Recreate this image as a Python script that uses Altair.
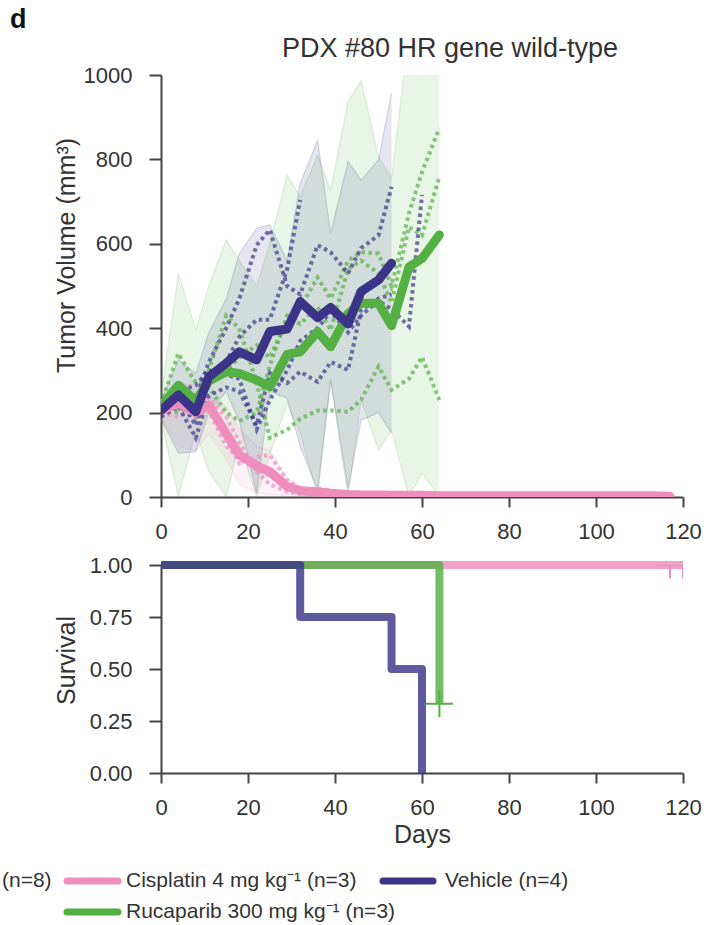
import altair as alt
import pandas as pd

FONT = "Liberation Sans"
TXT = "#333333"
AX = "#444444"

G_CIS = "Cisplatin 4 mg kg⁻¹ (n=3)"
G_VEH = "Vehicle (n=4)"
G_RUC = "Rucaparib 300 mg kg⁻¹ (n=3)"
groups = [G_CIS, G_VEH, G_RUC]
group_colors = ["#ef8dbd", "#3c3489", "#55b044"]
TITLE = "PDX #80 HR gene wild-type"

# ---- tumour volume: Vehicle ----
veh_days = [0, 4, 8, 11, 15, 18, 22, 25, 29, 32, 36, 39, 43, 46, 50, 53]
veh_mean = [205, 242, 202, 285, 317, 344, 325, 392, 398, 463, 425, 449, 410, 487, 514, 554]
veh_hi = [230, 325, 293, 390, 470, 577, 637, 645, 560, 743, 846, 625, 795, 751, 799, 957]
veh_lo = [185, 104, 107, 200, 250, 180, 9, 250, 234, 120, 17, 277, 20, 182, 200, 151]
veh_unit_days = [0, 4, 8, 11, 15, 18, 22, 25, 29, 32, 36, 39, 43, 46, 50, 53, 57, 60]
veh_u1 = [200, 235, 170, 275, 320, 380, 420, 420, 540, 704]
veh_u2 = [215, 265, 230, 320, 400, 470, 597, 633, 500, 480, 597, 580, 530, 590, 620, 735]
veh_u3 = [190, 215, 140, 240, 260, 250, 170, 294, 270, 297, 273, 320, 301, 443, 470, 480]
veh_u4 = [210, 250, 265, 300, 290, 280, 160, 230, 300, 370, 400, 440, 390, 430, 465, 445, 404, 716]

# ---- tumour volume: Rucaparib 300 ----
ruc_days = [0, 4, 8, 11, 15, 18, 22, 25, 29, 32, 36, 39, 43, 46, 50, 53, 57, 60, 64]
ruc_mean = [215, 265, 228, 275, 297, 293, 277, 261, 338, 344, 392, 356, 435, 459, 459, 406, 545, 565, 621]
ruc_hi = [240, 530, 396, 500, 609, 561, 500, 600, 763, 712, 810, 727, 937, 986, 806, 755, 1100, 1150, 1150]
ruc_lo = [185, 0, 157, 60, 0, 127, 0, 100, 222, 151, 0, 277, 0, 230, 111, 159, 0, 56, 0]
ruc_u1 = [220, 340, 270, 270, 300, 330, 360, 330, 420, 450, 520, 470, 560, 580, 577, 500, 672, 770, 874]
ruc_u2 = [210, 200, 220, 260, 200, 180, 200, 310, 430, 410, 450, 395, 540, 560, 530, 460, 640, 620, 759]
ruc_u3 = [200, 260, 190, 300, 430, 400, 270, 140, 160, 185, 205, 205, 202, 230, 309, 254, 280, 332, 230]

# ---- tumour volume: Cisplatin ----
cis_days = [0, 4, 8, 11, 15, 18, 22, 25, 29, 32, 36, 39, 43, 46, 50, 53, 57, 60, 64, 67,
            71, 74, 78, 81, 85, 88, 92, 95, 99, 102, 106, 109, 113, 117]
cis_mean = [205, 222, 200, 217, 150, 100, 74, 60, 25, 15, 12, 9, 6, 5, 5, 4, 4, 4, 3, 3,
            3, 3, 3, 3, 3, 3, 3, 3, 3, 3, 3, 3, 3, 2]
cis_band_days = [0, 4, 8, 11, 15, 18, 22, 25, 29, 32, 36, 39]
cis_hi = [230, 270, 265, 240, 215, 160, 120, 110, 45, 25, 20, 18]
cis_lo = [185, 120, 110, 150, 90, 30, 10, 5, 5, 4, 2, 1]
cis_u1 = [205, 240, 190, 235, 190, 130, 60, 30, 12, 6, 4, 3]
cis_u2 = [200, 190, 215, 210, 140, 80, 95, 100, 40, 20, 12, 8]
cis_u3 = [210, 235, 195, 205, 120, 90, 65, 50, 23, 18, 20, 16]

# ---- survival ----
surv_veh_days = [0, 32, 53, 60]
surv_veh = [1.0, 0.75, 0.5, 0.0]
surv_ruc_days = [0, 64]
surv_ruc = [1.0, 0.333]
surv_cis_days = [0, 120]
surv_cis = [1.0, 1.0]
cens_groups = [G_CIS, G_CIS, G_RUC]
cens_days = [117, 120, 64]
cens_surv = [1.0, 1.0, 0.333]

x_ticks = [0, 20, 40, 60, 80, 100, 120]
y_ticks_top = [0, 200, 400, 600, 800, 1000]
y_ticks_bot = [0, 0.25, 0.5, 0.75, 1.0]

color_scale = alt.Scale(domain=groups, range=group_colors)


def band_df(g, days, lo, hi):
    return pd.DataFrame({"group": g, "day": days, "lo": lo, "hi": hi})


def mean_df(g, days, vals):
    return pd.DataFrame({"group": g, "day": days, "vol": vals})


def units_df(g, days, units):
    rows = []
    for i, u in enumerate(units):
        for d, v in zip(days, u):
            rows.append({"group": g, "unit": f"{g}-{i}", "day": d, "vol": v})
    return pd.DataFrame(rows)


x_axis_top = alt.Axis(values=x_ticks, title=None, tickSize=10, labelPadding=14,
                      labelFlush=False, labelOverlap=False)
y_axis_top = alt.Axis(values=y_ticks_top, format="d", title="Tumor Volume (mm³)", tickSize=12,
                      labelPadding=17, titleAngle=270, titleX=-87, titleY=180,
                      titleAlign="center", titleBaseline="alphabetic")
xs_top = alt.Scale(domain=[0, 120], nice=False, zero=False)
ys_top = alt.Scale(domain=[0, 1000], nice=False)


def X():
    return alt.X("day:Q", scale=xs_top, axis=x_axis_top)


def Yt(field):
    return alt.Y(f"{field}:Q", scale=ys_top, axis=y_axis_top)


COL = alt.Color("group:N", scale=color_scale, legend=None)

spec = [
    (G_RUC, band_df(G_RUC, ruc_days, ruc_lo, ruc_hi), units_df(G_RUC, ruc_days, [ruc_u1, ruc_u2, ruc_u3]),
     mean_df(G_RUC, ruc_days, ruc_mean), 0.13),
    (G_CIS, band_df(G_CIS, cis_band_days, cis_lo, cis_hi), units_df(G_CIS, cis_band_days, [cis_u1, cis_u2, cis_u3]),
     mean_df(G_CIS, cis_days, cis_mean), 0.11),
    (G_VEH, band_df(G_VEH, veh_days, veh_lo, veh_hi),
     units_df(G_VEH, veh_unit_days, [veh_u1, veh_u2, veh_u3, veh_u4]),
     mean_df(G_VEH, veh_days, veh_mean), 0.13),
]

top_layers = []
for g, bdf, udf, mdf, op in spec:
    top_layers.append(alt.Chart(bdf).mark_area(opacity=op, clip=True).encode(
        x=X(), y=Yt("lo"), y2="hi:Q", color=COL))
    for f in ["lo", "hi"]:
        top_layers.append(alt.Chart(bdf).mark_line(opacity=0.18, strokeWidth=1.2, clip=True).encode(
            x=X(), y=Yt(f), color=COL))
for g, bdf, udf, mdf, op in spec:
    top_layers.append(alt.Chart(udf).mark_line(opacity=0.7, strokeWidth=4, strokeDash=[3.5, 3.5],
                                               strokeCap="butt", clip=True).encode(
        x=X(), y=Yt("vol"), color=COL, detail="unit:N"))
for g, bdf, udf, mdf, op in [spec[1], spec[0], spec[2]]:
    top_layers.append(alt.Chart(mdf).mark_line(strokeWidth=9, strokeCap="round", strokeJoin="round",
                                               clip=True).encode(
        x=X(), y=Yt("vol"), color=COL))

# panel letter and panel title
top_layers.append(alt.Chart(pd.DataFrame({"t": ["d"]})).mark_text(
    align="left", baseline="alphabetic", font=FONT, fontSize=27, fontWeight="bold", color="#111111"
).encode(x=alt.value(-151), y=alt.value(-47), text="t:N"))
top_layers.append(alt.Chart(pd.DataFrame({"t": [TITLE]})).mark_text(
    align="center", baseline="alphabetic", font=FONT, fontSize=27, color=TXT
).encode(x=alt.value(289), y=alt.value(-18), text="t:N"))

top = alt.layer(*top_layers).properties(width=522, height=422)

# ---- survival panel ----
x_axis_bot = alt.Axis(values=x_ticks, title="Days", tickSize=10, labelPadding=14,
                      labelFlush=False, labelOverlap=False, titlePadding=4)
y_axis_bot = alt.Axis(values=y_ticks_bot, format=".2f", title="Survival", tickSize=12,
                      labelPadding=17, titleAngle=270, titleX=-87, titleY=95,
                      titleAlign="center", titleBaseline="alphabetic")
xs_bot = alt.Scale(domain=[0, 120], nice=False, zero=False)
ys_bot = alt.Scale(domain=[0, 1], nice=False)

surv_df = pd.concat([
    pd.DataFrame({"group": G_CIS, "day": surv_cis_days, "surv": surv_cis}),
    pd.DataFrame({"group": G_RUC, "day": surv_ruc_days, "surv": surv_ruc}),
    pd.DataFrame({"group": G_VEH, "day": surv_veh_days, "surv": surv_veh}),
])
cens_df = pd.DataFrame({"group": cens_groups, "day": cens_days, "surv": cens_surv})

bot_layers = []
for g in [G_CIS, G_RUC, G_VEH]:
    bot_layers.append(alt.Chart(surv_df[surv_df.group == g]).mark_line(
        interpolate="step-after", strokeWidth=8, opacity=0.82, strokeJoin="round", strokeCap="butt"
    ).encode(
        x=alt.X("day:Q", scale=xs_bot, axis=x_axis_bot),
        y=alt.Y("surv:Q", scale=ys_bot, axis=y_axis_bot),
        color=COL))
bot_layers.append(alt.Chart(cens_df).mark_point(
    shape="M-1,0H1M0,-1V1", size=729, filled=False, strokeWidth=2, opacity=1, clip=True
).encode(
    x=alt.X("day:Q", scale=xs_bot, axis=x_axis_bot),
    y=alt.Y("surv:Q", scale=ys_bot, axis=y_axis_bot),
    color=COL))

# legend (drawn by hand, layout as in the figure)
legend_entries = [
    (G_CIS, group_colors[0], -94, -43, -35, 316),
    (G_VEH, group_colors[1], 222, 272, 284, 316),
    (G_RUC, group_colors[2], -94, -43, -35, 347),
]
for lab, colr, x0, x1, xt, yy in legend_entries:
    bot_layers.append(alt.Chart(pd.DataFrame({"t": [lab]})).mark_rule(
        strokeWidth=7, strokeCap="round", color=colr
    ).encode(x=alt.value(x0), x2=alt.value(x1), y=alt.value(yy)))
    bot_layers.append(alt.Chart(pd.DataFrame({"t": [lab]})).mark_text(
        align="left", baseline="middle", font=FONT, fontSize=21, color=TXT
    ).encode(x=alt.value(xt), y=alt.value(yy), text="t:N"))
bot_layers.append(alt.Chart(pd.DataFrame({"t": ["(n=8)"]})).mark_text(
    align="left", baseline="middle", font=FONT, fontSize=21, color=TXT
).encode(x=alt.value(-159), y=alt.value(316), text="t:N"))

bottom = alt.layer(*bot_layers).properties(width=522, height=208)

chart = alt.vconcat(top, bottom, spacing=12).properties(
    padding={"left": 2, "top": 6, "right": 0, "bottom": 0}
).configure_view(stroke=None).configure_axis(
    domainColor=AX, domainWidth=2, tickColor=AX, tickWidth=2, labelColor=TXT, titleColor=TXT,
    labelFont=FONT, titleFont=FONT, labelFontSize=22, titleFontSize=25, titleFontWeight="normal",
    grid=False
)

chart.save("out.html", embed_options={"renderer": "svg", "actions": False})
